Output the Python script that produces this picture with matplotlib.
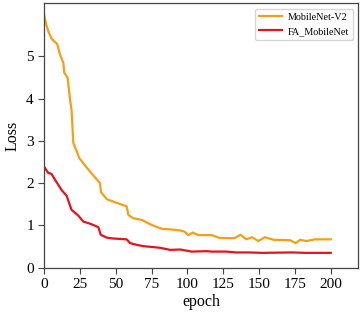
import matplotlib
matplotlib.use("Agg")
import matplotlib.pyplot as plt

epoch_v2 = [0, 1.7, 3.3, 5.2, 9, 11, 13.3, 14, 16.3, 18, 19, 20.3, 24.5, 30, 38.9, 39.6, 43.6,
            50, 57.5, 58.7, 62, 68, 75, 82, 90, 95, 98, 100.6, 103.6, 107.6, 117, 122.7, 133,
            137, 141, 145, 149.5, 154, 160, 171.6, 175.6, 178.6, 183, 189, 200]
loss_v2 = [5.95, 5.71, 5.55, 5.41, 5.29, 5.04, 4.84, 4.61, 4.49, 3.97, 3.74, 2.95, 2.59, 2.35, 2.0, 1.79, 1.62,
           1.54, 1.45, 1.25, 1.17, 1.13, 1.01, 0.92, 0.90, 0.88, 0.85, 0.77, 0.83, 0.77, 0.77, 0.70, 0.70,
           0.78, 0.67, 0.72, 0.63, 0.72, 0.66, 0.65, 0.58, 0.66, 0.63, 0.67, 0.67]

epoch_fa = [0, 2.8, 5, 7.5, 12, 15.6, 19, 23.8, 27.2, 32, 37.7, 39.4, 43.6, 48, 57.5, 60, 64.5,
            69, 80.8, 88, 94.8, 103, 113, 117, 127, 134, 143, 152, 173, 182, 200]
loss_fa = [2.38, 2.24, 2.22, 2.08, 1.84, 1.70, 1.37, 1.23, 1.09, 1.04, 0.96, 0.78, 0.71, 0.69, 0.67, 0.58, 0.54,
           0.51, 0.47, 0.42, 0.43, 0.38, 0.39, 0.38, 0.38, 0.36, 0.36, 0.35, 0.36, 0.35, 0.35]

plt.rcParams['font.family'] = ['Liberation Serif', 'DejaVu Serif']

fig = plt.figure(figsize=(3.63, 3.16), dpi=100)
ax = fig.add_axes([0.122, 0.153, 0.864, 0.836])
ax.plot(epoch_v2, loss_v2, color='#F59F16', lw=1.6, label='MobileNet-V2')
ax.plot(epoch_fa, loss_fa, color='#E3141C', lw=1.6, label='FA_MobileNet')
ax.set_xlim(0, 219)
ax.set_ylim(0, 6.25)
ax.set_xticks([0, 25, 50, 75, 100, 125, 150, 175, 200])
ax.set_yticks([0, 1, 2, 3, 4, 5])
ax.tick_params(labelsize=11, length=4, width=0.8, color='#444444')
for s in ax.spines.values():
    s.set_color('#444444')
    s.set_linewidth(0.9)
ax.set_xlabel('epoch', fontsize=11.5, labelpad=2)
ax.set_ylabel('Loss', fontsize=11.5, labelpad=4)
ax.legend(loc='upper right', fontsize=7.3, handlelength=2.3, handletextpad=0.5,
          borderaxespad=0.5)
fig.savefig('out.png', dpi=100)
